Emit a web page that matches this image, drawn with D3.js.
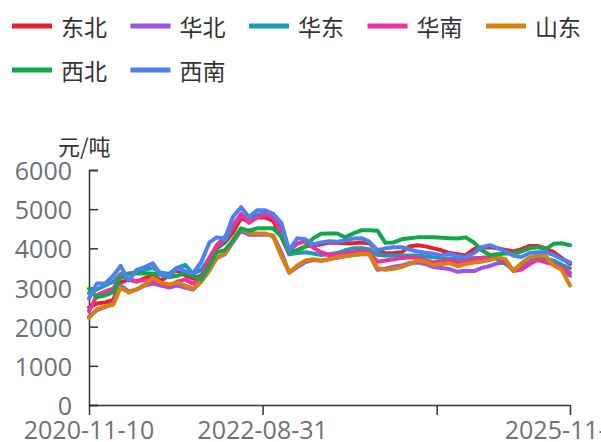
<!DOCTYPE html>
<html>
<head>
<meta charset="utf-8">
<script src="https://cdn.jsdelivr.net/npm/d3@7/dist/d3.min.js"></script>
<style>
  html, body { margin: 0; padding: 0; background: #fff; }
  svg { display: block; font-family: "Noto Sans CJK SC", "Noto Sans", sans-serif; }
  .num { font-family: "Open Sans", "Noto Sans", sans-serif; }
</style>
</head>
<body>
<div id="chart"></div>
<script>
// monthly dates
var dates = [
    "2020-11-10", "2020-12-10",
    "2021-01-10", "2021-02-10", "2021-03-10", "2021-04-10", "2021-05-10", "2021-06-10",
    "2021-07-10", "2021-08-10", "2021-09-10", "2021-10-10", "2021-11-10", "2021-12-10",
    "2022-01-10", "2022-02-10", "2022-03-10", "2022-04-10", "2022-05-10", "2022-06-10",
    "2022-07-10", "2022-08-10", "2022-09-10", "2022-10-10", "2022-11-10", "2022-12-10",
    "2023-01-10", "2023-02-10", "2023-03-10", "2023-04-10", "2023-05-10", "2023-06-10",
    "2023-07-10", "2023-08-10", "2023-09-10", "2023-10-10", "2023-11-10", "2023-12-10",
    "2024-01-10", "2024-02-10", "2024-03-10", "2024-04-10", "2024-05-10", "2024-06-10",
    "2024-07-10", "2024-08-10", "2024-09-10", "2024-10-10", "2024-11-10", "2024-12-10",
    "2025-01-10", "2025-02-10", "2025-03-10", "2025-04-10", "2025-05-10", "2025-06-10",
    "2025-07-10", "2025-08-10", "2025-09-10", "2025-10-10", "2025-11-10"
];

var seriesNames = ["东北", "华北", "华东", "华南", "山东", "西北", "西南"];
var seriesColors = ["#e6212e", "#9d52e8", "#1a9bb8", "#f0309b", "#d9820b", "#12a84a", "#4f7ff0"];

var dongbei = [2490, 2590, 2620, 2680, 3130, 3200, 3150, 3240, 3300, 3180, 3300, 3450, 3310, 3230,
    3300, 3650, 4000, 4150, 4400, 4770, 4680, 4790, 4790, 4700, 4300, 3850,
    3950, 4050, 4080, 4100, 4150, 4140, 4130, 4130, 4150, 4130, 3950, 3870,
    3880, 3900, 4050, 4080, 4050, 4000, 3950, 3880, 3850, 3820, 3980, 4020,
    4030, 4000, 3960, 3920, 3980, 4060, 4060, 4000, 3900, 3750, 3600];
var huabei = [2250, 2420, 2500, 2600, 3050, 2900, 2950, 3050, 3100, 3050, 3000, 3050, 3000, 2950,
    3150, 3450, 3750, 3850, 4150, 4450, 4350, 4350, 4350, 4330, 3900, 3380,
    3520, 3650, 3700, 3680, 3720, 3760, 3800, 3830, 3850, 3850, 3450, 3480,
    3530, 3560, 3620, 3640, 3600, 3520, 3500, 3470, 3400, 3430, 3420, 3500,
    3550, 3620, 3640, 3450, 3500, 3650, 3720, 3700, 3600, 3450, 3300];
var huadong = [2850, 2950, 3050, 3150, 3350, 3350, 3400, 3450, 3500, 3380, 3350, 3500, 3580, 3350,
    3450, 3750, 4050, 4200, 4550, 4850, 4750, 4850, 4900, 4880, 4550, 3850,
    3880, 3900, 3870, 3830, 3850, 3880, 3950, 4000, 4000, 3980, 3830, 3820,
    3820, 3820, 3820, 3820, 3800, 3770, 3750, 3740, 3750, 3760, 3750, 3760,
    3780, 3720, 3600, 3450, 3600, 3740, 3740, 3740, 3680, 3580, 3490];
var huanan = [2400, 2800, 2900, 2970, 3300, 3200, 3160, 3200, 3150, 3100, 3020, 3150, 3200, 3100,
    3250, 3750, 4080, 4300, 4580, 4880, 4650, 4790, 4850, 4790, 4400, 3950,
    4120, 4180, 4020, 3900, 3830, 3850, 3870, 3900, 3930, 3900, 3660, 3690,
    3720, 3750, 3770, 3760, 3700, 3640, 3670, 3700, 3650, 3670, 3730, 3750,
    3760, 3750, 3650, 3420, 3460, 3600, 3700, 3640, 3600, 3500, 3380];
var shandong = [2220, 2450, 2520, 2560, 3000, 2870, 2950, 3080, 3250, 3120, 3080, 3130, 3050, 2970,
    3150, 3430, 3770, 3860, 4200, 4500, 4400, 4380, 4380, 4300, 3800, 3380,
    3560, 3690, 3720, 3690, 3720, 3780, 3800, 3830, 3860, 3850, 3500, 3450,
    3480, 3520, 3600, 3690, 3660, 3570, 3600, 3620, 3540, 3600, 3640, 3660,
    3700, 3770, 3720, 3420, 3620, 3770, 3820, 3800, 3560, 3450, 3050];
var xibei = [2970, 2750, 2800, 2880, 3250, 3360, 3360, 3360, 3360, 3320, 3260, 3300, 3360, 3300,
    3200, 3550, 3900, 3950, 4200, 4510, 4450, 4510, 4510, 4510, 4300, 3900,
    3950, 4050, 4250, 4370, 4380, 4380, 4280, 4380, 4460, 4460, 4450, 4140,
    4150, 4230, 4260, 4280, 4280, 4280, 4270, 4260, 4250, 4280, 4150, 3950,
    3830, 3850, 3870, 3870, 3920, 4000, 4030, 3980, 4120, 4130, 4080];
var xinan = [2720, 3100, 3100, 3300, 3550, 3180, 3450, 3520, 3620, 3320, 3280, 3500, 3420, 3360,
    3650, 4150, 4280, 4250, 4800, 5050, 4800, 4970, 4970, 4880, 4650, 3950,
    4260, 4230, 4100, 4150, 4180, 4170, 4200, 4250, 4260, 4170, 3950, 4000,
    4030, 4030, 3970, 3920, 3890, 3860, 3820, 3860, 3800, 3770, 3880, 4030,
    4080, 4000, 3920, 3810, 3780, 3880, 3900, 3900, 3830, 3720, 3640];

var seriesValues = [dongbei, huabei, huadong, huanan, shandong, xibei, xinan];

var yTicks = [0, 1000, 2000, 3000, 4000, 5000, 6000];
var xTicks = ["2020-11-10", "2022-08-31", "2024-06-22", "2025-11-10"];
var xTickLabels = ["2020-11-10", "2022-08-31", "", "2025-11-10"];

var unitLabel = "元/吨";

var width = 601, height = 442;
var parse = d3.timeParse("%Y-%m-%d");

var x = d3.scaleTime()
    .domain([parse(dates[0]), parse(dates[dates.length - 1])])
    .range([89, 570]);

var y = d3.scaleLinear()
    .domain([0, 6000])
    .range([405, 170]);

var svg = d3.select("#chart")
    .append("svg")
    .attr("width", width)
    .attr("height", height);

// legend
var legend = svg.append("g").attr("class", "legend");
seriesNames.forEach(function (name, i) {
    var row = i < 5 ? 0 : 1;
    var col = i < 5 ? i : i - 5;
    var lx = 12 + col * 118.5;
    var ly = 26 + row * 44;
    legend.append("line")
        .attr("x1", lx)
        .attr("x2", lx + 40)
        .attr("y1", ly)
        .attr("y2", ly)
        .attr("stroke", seriesColors[i])
        .attr("stroke-width", 5);
    legend.append("text")
        .attr("x", lx + 49)
        .attr("y", ly)
        .attr("dominant-baseline", "central")
        .attr("font-size", 23)
        .attr("fill", "#333")
        .text(name);
});

// unit
svg.append("text")
    .attr("x", 58)
    .attr("y", 145)
    .attr("dominant-baseline", "central")
    .attr("font-size", 22)
    .attr("fill", "#333")
    .text(unitLabel);

// y axis
var yAxis = svg.append("g")
    .attr("transform", "translate(89,0)")
    .call(d3.axisRight(y).tickValues(yTicks).tickSize(9).tickFormat(""));
yAxis.select(".domain").attr("stroke", "#333").attr("stroke-width", 1.5);
yAxis.selectAll(".tick line").attr("stroke", "#333").attr("stroke-width", 1.5);

svg.append("g")
    .attr("class", "num")
    .selectAll("text")
    .data(yTicks)
    .join("text")
    .attr("x", 72)
    .attr("y", function (d) { return y(d); })
    .attr("text-anchor", "end")
    .attr("dominant-baseline", "central")
    .attr("font-size", 25)
    .attr("fill", "#6e7079")
    .text(function (d) { return d; });

// lines
var line = d3.line()
    .x(function (d, i) { return x(parse(dates[i])); })
    .y(function (d) { return y(d); });

svg.append("g")
    .selectAll("path")
    .data(seriesValues)
    .join("path")
    .attr("d", line)
    .attr("fill", "none")
    .attr("stroke", function (d, i) { return seriesColors[i]; })
    .attr("stroke-width", 4)
    .attr("stroke-linejoin", "round")
    .attr("stroke-linecap", "round");

// x axis
var xAxis = svg.append("g")
    .attr("transform", "translate(0,405)")
    .call(d3.axisBottom(x).tickValues(xTicks.map(parse)).tickSize(10).tickSizeOuter(0).tickFormat(""));
xAxis.select(".domain").attr("stroke", "#333").attr("stroke-width", 1.5);
xAxis.selectAll(".tick line").attr("stroke", "#333").attr("stroke-width", 1.5);

svg.append("g")
    .attr("class", "num")
    .selectAll("text")
    .data(xTicks)
    .join("text")
    .attr("x", function (d) { return x(parse(d)); })
    .attr("y", 439)
    .attr("text-anchor", "middle")
    .attr("font-size", 25)
    .attr("fill", "#6e7079")
    .text(function (d, i) { return xTickLabels[i]; });
</script>
</body>
</html>
